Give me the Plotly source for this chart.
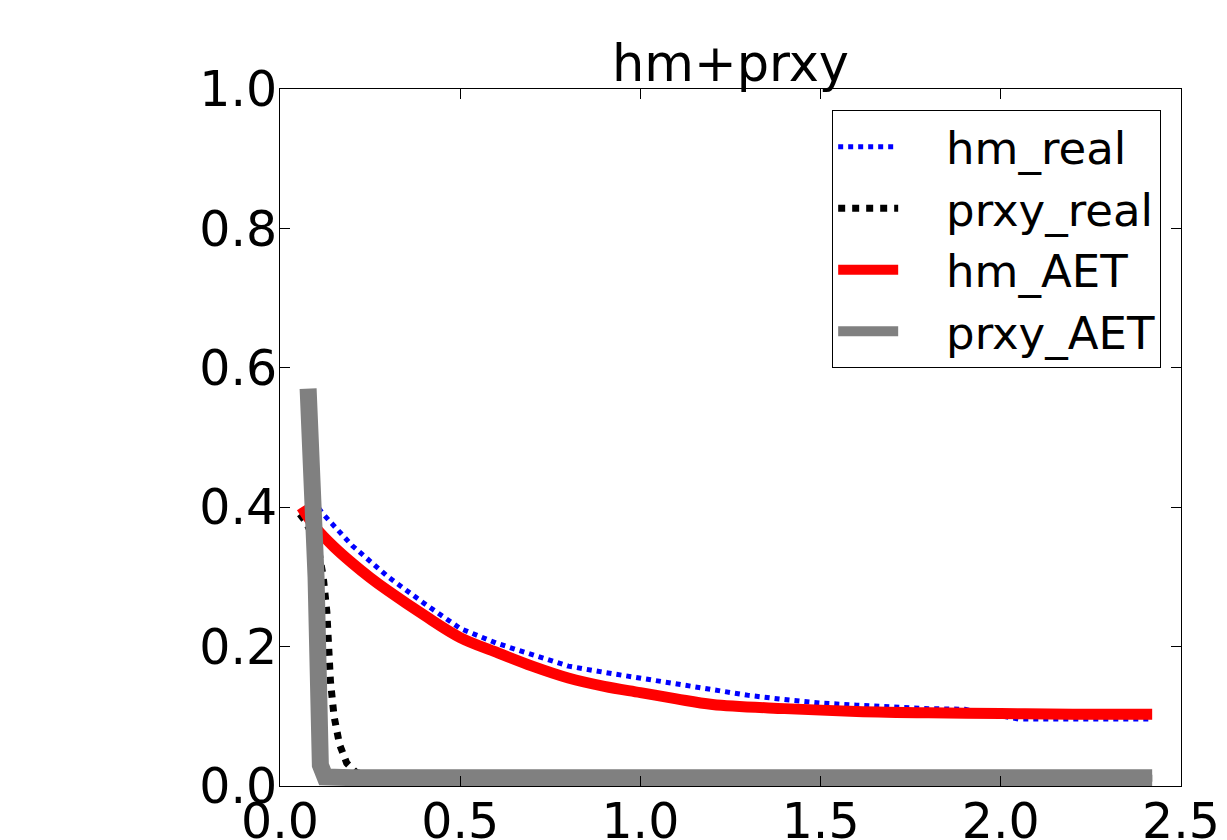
import plotly.graph_objects as go

# ---- data ----
hm_real_x = [0.09, 0.12, 0.2, 0.3, 0.4, 0.5, 0.6, 0.7, 0.8, 0.9, 1.0, 1.1, 1.2, 1.3, 1.4, 1.5, 1.6, 1.7, 1.8, 1.9, 2.0, 2.05, 2.2, 2.42]
hm_real_y = [0.41, 0.39, 0.345, 0.30, 0.262, 0.226, 0.205, 0.188, 0.172, 0.163, 0.155, 0.146, 0.138, 0.130, 0.124, 0.119, 0.116, 0.113, 0.111, 0.110, 0.100, 0.096, 0.096, 0.096]

prxy_real_x = [0.055, 0.07, 0.09, 0.11, 0.12, 0.13, 0.135, 0.14, 0.15, 0.165, 0.185, 0.21, 0.25, 0.35, 0.45, 0.5, 0.55, 1.0, 1.5, 2.0, 2.42]
prxy_real_y = [0.39, 0.38, 0.36, 0.33, 0.30, 0.25, 0.20, 0.15, 0.10, 0.06, 0.033, 0.02, 0.013, 0.012, 0.016, 0.016, 0.011, 0.011, 0.011, 0.011, 0.011]

hm_aet_x = [0.06, 0.1, 0.15, 0.2, 0.25, 0.3, 0.4, 0.5, 0.6, 0.7, 0.8, 0.9, 1.0, 1.1, 1.2, 1.4, 1.6, 1.8, 2.0, 2.2, 2.42]
hm_aet_y = [0.40, 0.37, 0.343, 0.32, 0.299, 0.28, 0.245, 0.213, 0.192, 0.172, 0.155, 0.143, 0.134, 0.125, 0.117, 0.111, 0.107, 0.105, 0.104, 0.103, 0.103]

prxy_aet_x = [0.078, 0.085, 0.10, 0.112, 0.125, 0.2, 1.0, 2.42]
prxy_aet_y = [0.57, 0.50, 0.30, 0.03, 0.013, 0.012, 0.012, 0.012]

series_names = ["   hm_real", "   prxy_real", "   hm_AET", "   prxy_AET"]
title_text = "hm+prxy"
font_family = "DejaVu Sans"

fig = go.Figure()
fig.add_trace(go.Scatter(x=hm_real_x, y=hm_real_y, mode="lines", name=series_names[0],
                         line=dict(color="blue", width=5, dash="dot"), legendgroup="a"))
fig.add_trace(go.Scatter(x=prxy_real_x, y=prxy_real_y, mode="lines", name=series_names[1],
                         line=dict(color="black", width=7, dash="dot"), legendgroup="b"))
fig.add_trace(go.Scatter(x=hm_aet_x, y=hm_aet_y, mode="lines", name=series_names[2],
                         line=dict(color="red", width=11, shape="spline"), legendgroup="c"))
fig.add_trace(go.Scatter(x=prxy_aet_x, y=prxy_aet_y, mode="lines", name=series_names[3],
                         line=dict(color="gray", width=17), legendgroup="d"))

axis_common = dict(showline=True, linecolor="black", linewidth=1, mirror="allticks",
                   ticks="inside", ticklen=10, tickwidth=1, tickcolor="black",
                   showgrid=False, zeroline=False, tickformat=".1f", automargin=False,
                   ticklabelstandoff=-8,
                   tickfont=dict(family=font_family, size=49, color="black"))

# the page body adds an 8px offset; margins compensate so the plot box lands at 280..1181 x 89..786
fig.update_layout(
    width=1227, height=840,
    margin=dict(l=272, r=54, t=81, b=62),
    plot_bgcolor="white", paper_bgcolor="white",
    title=dict(text=title_text, x=(272 + 1173) / 2 / 1227, xanchor="center",
               y=1 - 55 / 840, yanchor="middle",
               font=dict(family=font_family, size=51, color="black")),
    xaxis=dict(range=[0, 2.5], dtick=0.5, tick0=0, **axis_common),
    yaxis=dict(range=[0, 1.0], dtick=0.2, tick0=0, **axis_common),
    legend=dict(x=0.978, xanchor="right", y=0.970, yanchor="top",
                bordercolor="black", borderwidth=1, bgcolor="white",
                font=dict(family=font_family, size=45, color="black"),
                tracegroupgap=0, itemwidth=60),
    showlegend=True,
)

fig.write_html("out.html")
